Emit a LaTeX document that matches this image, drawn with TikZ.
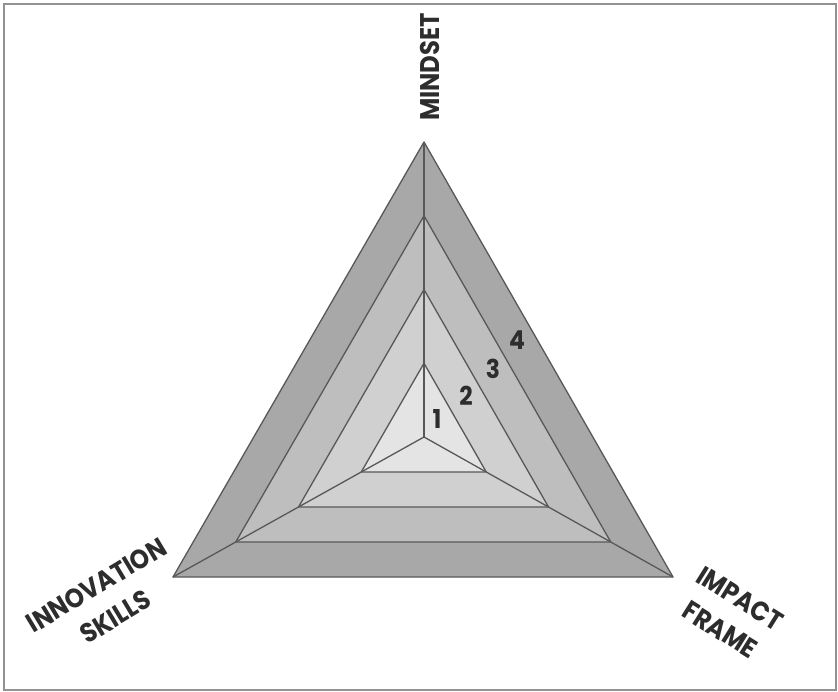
\documentclass[tikz,border=0pt]{standalone}
\usepackage{fontspec}
\setmainfont{Poppins}
\newfontfamily\labfont{Poppins}[FakeStretch=0.9]
\usetikzlibrary{calc}
\definecolor{band4}{RGB}{168,168,168}
\definecolor{band3}{RGB}{190,190,190}
\definecolor{band2}{RGB}{208,208,208}
\definecolor{band1}{RGB}{228,228,228}
\definecolor{edge}{RGB}{88,88,88}
\definecolor{ink}{RGB}{45,45,45}
\begin{document}
\begin{tikzpicture}[x=1pt,y=-1pt,
  edgeline/.style={draw=edge,line width=1.3pt,line join=round},
  axislabel/.style={font=\labfont\bfseries\fontsize{27}{37}\selectfont,text=ink,align=center,inner sep=0pt},
  levelnum/.style={font=\labfont\bfseries\fontsize{26}{28}\selectfont,text=ink,inner sep=0pt}]
\useasboundingbox (0,0) rectangle (838,692);
\draw[draw=gray!85,line width=2.5pt] (4,4) rectangle (836,690);
\coordinate (C) at (424,437);
\coordinate (A) at (424,142);
\coordinate (B) at (173,577);
\coordinate (D) at (673,577);
\foreach \s/\c in {1/band4,0.75/band3,0.5/band2,0.25/band1}{
  \filldraw[edgeline,fill=\c] ($(C)!\s!(A)$) -- ($(C)!\s!(B)$) -- ($(C)!\s!(D)$) -- cycle;
}
\draw[edgeline] (C) -- (A);
\draw[edgeline] (C) -- (B);
\draw[edgeline] (C) -- (D);
\node[levelnum] (n1) at (437,419) {1};
\node[levelnum] (n2) at (466,396) {2};
\node[levelnum] (n3) at (493,369) {3};
\node[levelnum] (n4) at (517,340) {4};
\node[axislabel,rotate=90] (mind) at (430,67) {MINDSET};
\node[axislabel,rotate=31] (innov) at (106,601) {INNOVATION\\SKILLS};
\node[axislabel,rotate=-32] (impact) at (730,614) {IMPACT\\FRAME};
\end{tikzpicture}
\end{document}
